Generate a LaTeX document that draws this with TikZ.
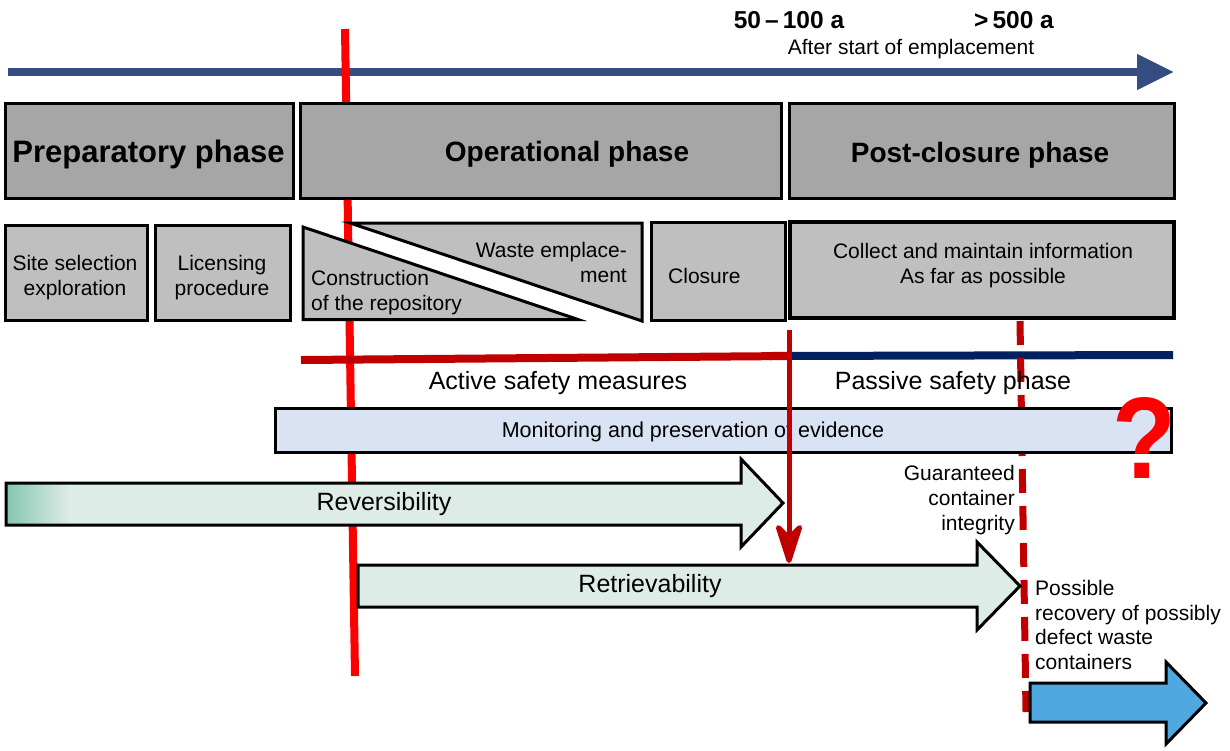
\documentclass[tikz,border=0pt]{standalone}
\usepackage{fontspec}
\setmainfont{Liberation Sans}
\usetikzlibrary{arrows.meta}

\definecolor{axisblue}{RGB}{53,77,128}
\definecolor{phasegray}{RGB}{166,166,166}
\definecolor{subgray}{RGB}{191,191,191}
\definecolor{monblue}{RGB}{218,227,243}
\definecolor{mint}{RGB}{222,236,231}
\definecolor{tealish}{RGB}{135,198,178}
\definecolor{darkred}{RGB}{192,0,0}
\definecolor{navyline}{RGB}{0,32,96}
\definecolor{recblue}{RGB}{80,168,225}

\begin{document}
\begin{tikzpicture}[x=1pt, y=-1pt, line join=miter,
  box/.style={draw=black, line width=3pt, inner sep=0pt, anchor=center},
  phasebox/.style={box, fill=phasegray},
  phaselbl/.style={inner sep=0pt, font=\fontsize{28}{30}\selectfont\bfseries},
  subbox/.style={box, fill=subgray},
  lbl/.style={inner sep=0pt, font=\fontsize{21}{25}\selectfont},
  biglbl/.style={inner sep=0pt, font=\fontsize{25}{28}\selectfont},
  yearlbl/.style={inner sep=0pt, font=\fontsize{24.5}{26}\selectfont\bfseries},
  bigarrow/.style={draw=black, line width=3pt, line join=miter},
]
\useasboundingbox (0,0) rectangle (1230,750);

% time axis
\coordinate (axisL) at (8,72);
\coordinate (axisR) at (1174,72);
\draw[axisblue, line width=8pt, -{Triangle[length=37pt,width=34pt]}] (axisL) -- (axisR);
\node[yearlbl] (y100) at (789,20) {50\,–\,100 a};
\node[yearlbl] (y500) at (1014,20) {>\,500 a};
\node[inner sep=0pt, font=\fontsize{21}{24}\selectfont] (after) at (911,49) {After start of emplacement};

% start of emplacement marker
\coordinate (rTop) at (345,29);
\coordinate (rBot) at (355,676);
\draw[red, line width=8pt] (rTop) -- (rBot);

% safety phase lines
\coordinate (actL) at (301,360);
\coordinate (actR) at (791,356);
\coordinate (pasL) at (769,356);
\coordinate (pasR) at (1173,355);
\draw[navyline, line width=8pt] (pasL) -- (pasR);
\draw[darkred, line width=8pt] (actL) -- (actR);

% end of container integrity
\coordinate (dashTop) at (1020,321);
\coordinate (dashBot) at (1026,712);
\draw[darkred, line width=7pt, dash pattern=on 24pt off 13pt] (dashTop) -- (dashBot);

% phases
\node[phasebox, minimum width=288pt, minimum height=95pt] (prep) at (149,150.5) {};
\node[phaselbl, font=\fontsize{31}{33}\selectfont\bfseries] (prept) at (148.5,154) {Preparatory phase};
\node[phasebox, minimum width=481pt, minimum height=95pt] (oper) at (540.5,150.5) {};
\node[phaselbl] (opert) at (567,154) {Operational phase};
\node[phasebox, minimum width=385pt, minimum height=95pt] (post) at (981.5,150.5) {};
\node[phaselbl] (postt) at (980,155) {Post-closure phase};

% activities
\node[subbox, minimum width=142pt, minimum height=95pt] (site) at (76.5,272.5) {};
\node[lbl, align=center] (sitet) at (75,278) {Site selection\\exploration};
\node[subbox, minimum width=135pt, minimum height=95pt] (lic) at (222.5,272.5) {};
\node[lbl, align=center] (lict) at (222,278) {Licensing\\procedure};

\draw[box, fill=subgray] (303,227) -- (578,319.5) -- (303,319.5) -- cycle;
\node[lbl, align=left, anchor=west] (constr) at (311,293) {Construction\\of the repository};
\draw[box, fill=subgray] (350,223) -- (642,223) -- (642,321) -- cycle;
\node[lbl, align=right, anchor=east] (waste) at (627,262) {Waste emplace-\\ment};

\node[subbox, minimum width=134pt, minimum height=98pt] (clos) at (718,271) {};
\node[lbl, anchor=west] (clost) at (668,276) {Closure};
\node[box, fill=subgray, line width=4pt, minimum width=384pt, minimum height=96pt] (coll) at (982,270) {};
\node[lbl, align=center] (collt) at (983,266) {Collect and maintain information\\As far as possible};

% safety phase labels
\node[biglbl] (act) at (558,383) {Active safety measures};
\node[biglbl] (pas) at (953,383) {Passive safety phase};

% monitoring
\node[box, fill=monblue, minimum width=896pt, minimum height=44pt] (mon) at (723,430) {};
\node[inner sep=0pt, font=\fontsize{21.5}{24}\selectfont] (mont) at (693,432) {Monitoring and preservation of evidence};

% reversibility arrow
\fill[mint] (6,483) -- (741,483) -- (741,459) -- (783,503) -- (741,547) -- (741,525) -- (6,525) -- cycle;
\shade[left color=tealish, right color=mint] (7.5,484.5) rectangle (70,523.5);
\draw[bigarrow] (6,483) -- (741,483) -- (741,459) -- (783,503) -- (741,547) -- (741,525) -- (6,525) -- cycle;
\node[biglbl] (rev) at (384,504) {Reversibility};

% retrievability arrow
\draw[bigarrow, fill=mint] (358,565) -- (977,565) -- (977,542) -- (1020,586) -- (977,630) -- (977,607) -- (358,607) -- cycle;
\node[biglbl] (ret) at (650,586) {Retrievability};

% recovery arrow
\draw[bigarrow, fill=recblue] (1030,683) -- (1166,683) -- (1166,662) -- (1206,703) -- (1166,744) -- (1166,722) -- (1030,722) -- cycle;

% end of operation
\coordinate (opTop) at (789,330);
\coordinate (opTip) at (789,563);
\draw[darkred, line width=5pt, -{Stealth[length=50pt,width=32pt,inset=16pt,round]}] (opTop) -- (opTip);

% side notes
\node[lbl, align=right, anchor=east] (guar) at (1015,500) {Guaranteed\\container\\integrity};
\node[inner sep=0pt, font=\fontsize{21}{24.5}\selectfont, align=left, anchor=west] (poss) at (1035,625) {Possible\\recovery of possibly\\defect waste\\containers};

\node[inner sep=0pt, text=red, font=\fontsize{116}{116}\selectfont\bfseries, xscale=0.9] (qm) at (1144,438) {?};
\end{tikzpicture}
\end{document}
